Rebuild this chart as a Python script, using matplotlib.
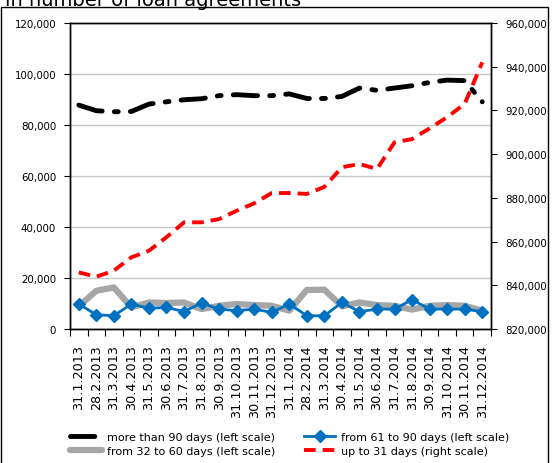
import matplotlib
matplotlib.use("Agg")
import matplotlib.pyplot as plt
from matplotlib.patches import Rectangle
from matplotlib.ticker import FuncFormatter

dates = ["31.1.2013", "28.2.2013", "31.3.2013", "30.4.2013", "31.5.2013", "30.6.2013",
         "31.7.2013", "31.8.2013", "30.9.2013", "31.10.2013", "30.11.2013", "31.12.2013",
         "31.1.2014", "28.2.2014", "31.3.2014", "30.4.2014", "31.5.2014", "30.6.2014",
         "31.7.2014", "31.8.2014", "30.9.2014", "31.10.2014", "30.11.2014", "31.12.2014"]

over_90 = [87800, 85600, 85200, 85300, 88200, 89100, 89900, 90300, 91500, 91900, 91500, 91500,
           92200, 90400, 90400, 91200, 94500, 93600, 94500, 95400, 96700, 97600, 97400, 89100]
d61_90 = [9800, 5600, 5200, 9800, 8100, 8500, 6800, 10200, 7800, 7200, 7800, 6500,
          9800, 5200, 5200, 10400, 6800, 7800, 7800, 11500, 7800, 7800, 7800, 6800]
d32_60 = [8900, 15000, 16300, 8500, 10400, 10200, 10400, 7800, 9100, 9800, 9400, 9100,
          7200, 15300, 15400, 8900, 10400, 9400, 9100, 7600, 9100, 9400, 9100, 7200]
upto_31 = [845900, 843900, 846700, 852800, 855800, 862000, 868800, 868800, 870300, 874100, 877500, 882200,
           882200, 881800, 885000, 894000, 895500, 893200, 905400, 906900, 911800, 916900, 923000, 942000]

fig = plt.figure(figsize=(5.54, 4.64), dpi=100)
ax = fig.add_axes([70 / 554, 1 - 330 / 464, 421 / 554, 306 / 464])
ax2 = ax.twinx()

x = list(range(len(dates)))
fmt = FuncFormatter(lambda v, p: f"{v:,.0f}")

l1, = ax.plot(x, over_90, color="black", lw=3.5, dashes=(5, 2.5, 0.8, 2.5),
              dash_capstyle="round", label="more than 90 days (left scale)")
l3, = ax.plot(x, d32_60, color="#a6a6a6", lw=4.5, solid_capstyle="round",
              label="from 32 to 60 days (left scale)")
l2, = ax.plot(x, d61_90, color="#0070c0", lw=2, marker="D", ms=6.5,
              label="from 61 to 90 days (left scale)")
l4, = ax2.plot(x, upto_31, color="#ff0000", lw=2.8, dashes=(3, 1.8),
               label="up to 31 days (right scale)")

ax.set_xlim(-0.5, len(dates) - 0.5)
ax.set_ylim(0, 120000)
ax.set_yticks(range(0, 120001, 20000))
ax.yaxis.set_major_formatter(fmt)
ax2.set_ylim(820000, 960000)
ax2.set_yticks(range(820000, 960001, 20000))
ax2.yaxis.set_major_formatter(fmt)

ax.grid(axis="y", color="#c8c8c8", lw=1)
ax.set_axisbelow(True)
ax.set_xticks([i - 0.5 for i in range(len(dates) + 1)], minor=False)
ax.set_xticklabels([])
ax.set_xticks(x, minor=True)
ax.set_xticklabels(dates, minor=True, rotation=90, fontsize=9.2)
ax.tick_params(axis="x", which="minor", length=0, pad=11)
ax.tick_params(axis="x", which="major", length=5, direction="out")
ax.tick_params(axis="y", labelsize=7.4, length=4, pad=6)
ax2.tick_params(axis="y", labelsize=7.4, length=4, pad=6)

for a in (ax, ax2):
    for s in a.spines.values():
        s.set_color("black")
        s.set_linewidth(1)

fig.legend([l1, l3, l2, l4], [l1.get_label(), l3.get_label(), l2.get_label(), l4.get_label()],
           ncol=2, frameon=False, fontsize=8, loc="lower left",
           bbox_to_anchor=(66 / 554, 3 / 464), handlelength=2.8, handletextpad=0.5,
           columnspacing=2.6, labelspacing=0.3, borderaxespad=0)

fig.text(5 / 554, 1 - 6 / 464, "in number of loan agreements", fontsize=14, va="baseline")
fig.patches.append(Rectangle((1 / 554, -0.02), 547 / 554, 1 - 8 / 464 + 0.02,
                             transform=fig.transFigure, fill=False, edgecolor="black", lw=1))

fig.savefig("out.png", dpi=100)
